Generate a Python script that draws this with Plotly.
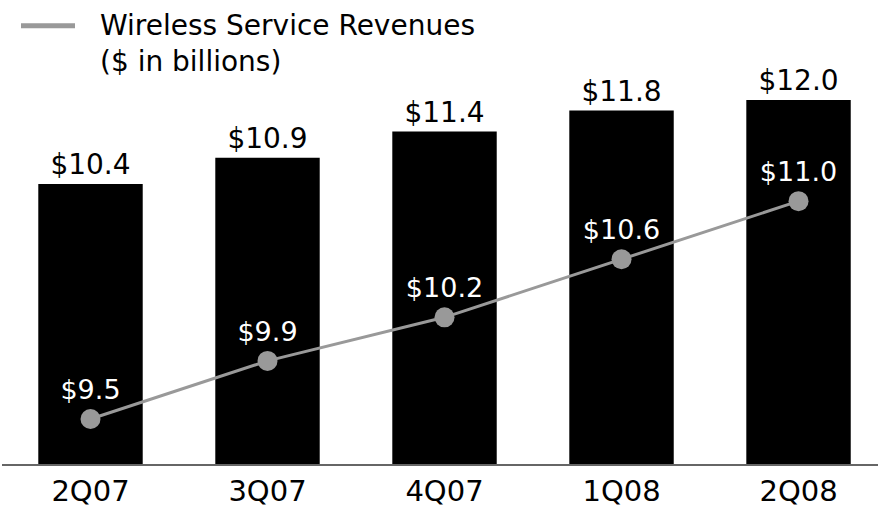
import plotly.graph_objects as go

# Quarterly data ($ in billions)
quarters = ["2Q07", "3Q07", "4Q07", "1Q08", "2Q08"]
total_revenues = [10.4, 10.9, 11.4, 11.8, 12.0]
service_revenues = [9.5, 9.9, 10.2, 10.6, 11.0]

FONT = "DejaVu Sans"
GRAY = "#999999"
PLOT_W, PLOT_H = 876, 468

fig = go.Figure()

fig.add_trace(go.Bar(
    x=quarters,
    y=total_revenues,
    marker=dict(color="black", line=dict(width=0)),
    text=[f"${v:.1f}" for v in total_revenues],
    textposition="outside",
    textfont=dict(family=FONT, size=28, color="black"),
    cliponaxis=False,
    showlegend=False,
    yaxis="y",
))

fig.add_trace(go.Scatter(
    x=quarters,
    y=service_revenues,
    mode="lines+markers+text",
    line=dict(color=GRAY, width=3),
    marker=dict(color=GRAY, size=20),
    text=[f"${v:.1f}" for v in service_revenues],
    textposition="top center",
    textfont=dict(family=FONT, size=27, color="white"),
    cliponaxis=False,
    showlegend=False,
    yaxis="y2",
))

# Legend sample line and caption
fig.add_shape(type="line", xref="paper", yref="paper",
              x0=19 / PLOT_W, x1=73 / PLOT_W,
              y0=(PLOT_H - 26) / PLOT_H, y1=(PLOT_H - 26) / PLOT_H,
              line=dict(color=GRAY, width=5))
fig.add_annotation(xref="paper", yref="paper", x=96 / PLOT_W,
                   y=(PLOT_H - 44) / PLOT_H,
                   xanchor="left", yanchor="middle", showarrow=False, align="left",
                   text="Wireless Service Revenues<br>($ in billions)",
                   font=dict(family=FONT, size=28, color="black"))

fig.update_layout(
    width=878, height=508,
    margin=dict(l=2, r=0, t=0, b=40),
    paper_bgcolor="white", plot_bgcolor="white",
    bargap=0.41,
    xaxis=dict(
        range=[-0.5, 4.449],
        showline=True, linecolor="#666666", linewidth=2,
        showgrid=False, ticks="",
        tickfont=dict(family=FONT, size=29, color="black"),
    ),
    yaxis=dict(range=[5.07, 13.905], visible=False, showgrid=False),
    yaxis2=dict(range=[9.19, 12.385], overlaying="y", visible=False, showgrid=False),
)

fig.write_html("out.html")
